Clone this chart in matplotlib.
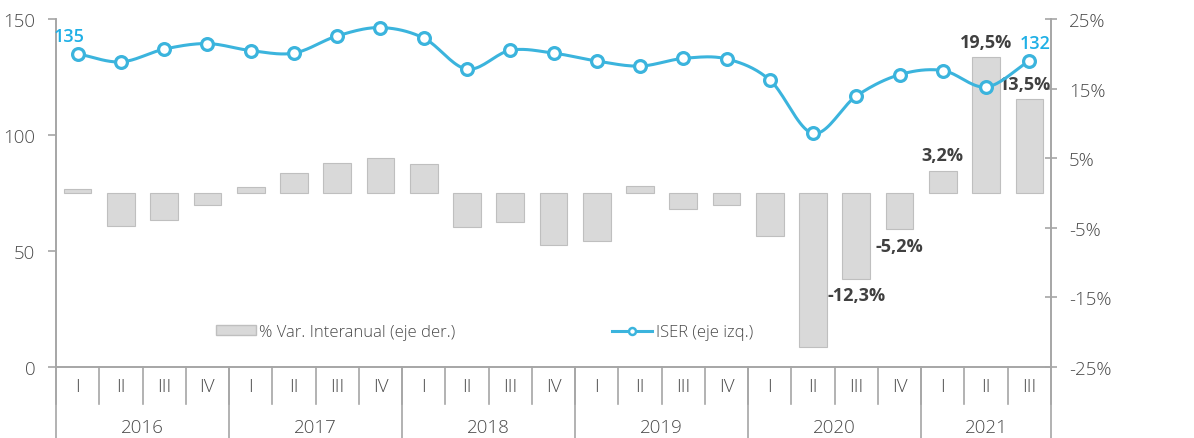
import numpy as np
import matplotlib
matplotlib.use("Agg")
import matplotlib.pyplot as plt
from matplotlib.patches import Patch
from matplotlib.lines import Line2D

plt.rcParams['font.family'] = ['Open Sans', 'DejaVu Sans']

# datos
anios = ['2016', '2017', '2018', '2019', '2020', '2021']
trimestres = ['I', 'II', 'III', 'IV'] * 5 + ['I', 'II', 'III']
iser = [135, 131.5, 137, 139.4, 136.4, 135.3, 142.7, 146.3, 141.8, 128.4, 136.5, 135.3,
        131.9, 129.7, 133, 132.8, 123.7, 100.7, 116.8, 126, 127.8, 120.7, 132]
var_ia = [0.6, -4.8, -3.9, -1.7, 0.8, 2.9, 4.3, 5.0, 4.1, -4.9, -4.2, -7.5,
          -6.9, 1.0, -2.3, -1.7, -6.2, -22.1, -12.3, -5.2, 3.2, 19.5, 13.5]
etiq_var = [18, 19, 20, 21, 22]

azul = '#3bb4dd'
gris_txt = '#4a4a4a'
gris_eje = '#a6a6a6'


def suavizar(x, y, n=20):
    # curva tipo catmull-rom para el trazo suavizado
    x = np.asarray(x, float)
    y = np.asarray(y, float)
    px = np.concatenate([[2 * x[0] - x[1]], x, [2 * x[-1] - x[-2]]])
    py = np.concatenate([[2 * y[0] - y[1]], y, [2 * y[-1] - y[-2]]])
    xs, ys = [], []
    t = np.linspace(0, 1, n, endpoint=False)
    for i in range(1, len(px) - 2):
        for p, out in ((px, xs), (py, ys)):
            p0, p1, p2, p3 = p[i - 1], p[i], p[i + 1], p[i + 2]
            out.extend(0.5 * ((2 * p1) + (-p0 + p2) * t + (2 * p0 - 5 * p1 + 4 * p2 - p3) * t ** 2
                              + (-p0 + 3 * p1 - 3 * p2 + p3) * t ** 3))
    xs.append(x[-1])
    ys.append(y[-1])
    return np.array(xs), np.array(ys)


n = len(iser)
x = np.arange(n)

fig = plt.figure(figsize=(11.94, 4.39), dpi=100)
ax = fig.add_axes([56 / 1194, 71 / 439, 995 / 1194, 348 / 439])
ax2 = ax.twinx()

ax2.bar(x, var_ia, width=0.64, color='#d9d9d9', edgecolor='#bfbfbf', linewidth=0.8)
ax2.set_ylim(-25, 25)
ax2.set_yticks([-25, -15, -5, 5, 15, 25])
ax2.set_yticklabels(['-25%', '-15%', '-5%', '5%', '15%', '25%'])

xs, ys = suavizar(x, iser)
ax.plot(xs, ys, color=azul, lw=2.2, zorder=3)
ax.plot(x, iser, 'o', ms=8.5, mfc='white', mec=azul, mew=2.3, zorder=4)
ax.set_ylim(0, 150)
ax.set_yticks([0, 50, 100, 150])
ax.set_xlim(-0.5, n - 0.5)
ax.set_zorder(ax2.get_zorder() + 1)
ax.patch.set_visible(False)

for a in (ax, ax2):
    for s in a.spines.values():
        s.set_color(gris_eje)
        s.set_linewidth(1.2)
    a.spines['top'].set_visible(False)
    a.set_xticks([])
ax.tick_params(axis='y', colors=gris_eje, labelcolor=gris_txt, labelsize=13.5, length=6, width=1.2, pad=9)
ax2.tick_params(axis='y', colors=gris_eje, labelcolor=gris_txt, labelsize=13.5, length=8, width=1.2,
                direction='inout', pad=9)
for lab in ax.get_yticklabels() + ax2.get_yticklabels():
    lab.set_fontweight('light')

# eje x de dos niveles
tr = ax.get_xaxis_transform()
for i, t in enumerate(trimestres):
    ax.text(i, -0.055, t, transform=tr, ha='center', va='center', fontsize=13.5, color=gris_txt,
            fontweight='light')
for k in range(n + 1):
    ax.plot([k - 0.5, k - 0.5], [0, -0.106], transform=tr, color=gris_eje, lw=1.2, clip_on=False)
limites = [-0.5, 3.5, 7.5, 11.5, 15.5, 19.5, 22.5]
for b in limites:
    ax.plot([b, b], [0, -0.21], transform=tr, color=gris_eje, lw=1.2, clip_on=False)
for j, a in enumerate(anios):
    ax.text((limites[j] + limites[j + 1]) / 2, -0.172, a, transform=tr, ha='center', va='center',
            fontsize=13.5, color=gris_txt, fontweight='light')

# etiquetas
ax.annotate('135', (x[0], iser[0]), xytext=(-6, 13), textcoords='offset points', ha='center',
            va='center', fontsize=13, fontweight='semibold', color='#1fb0e6')
ax.annotate(str(int(iser[-1])), (x[-1], iser[-1]), xytext=(4, 13), textcoords='offset points',
            ha='center', va='center', fontsize=13, fontweight='semibold', color='#1fb0e6')
for i in etiq_var:
    v = var_ia[i]
    dy = 11 if v > 0 else -12
    dx = -3 if i == n - 1 else 0
    ax2.annotate(('%.1f%%' % v).replace('.', ','), (x[i], v), xytext=(dx, dy), textcoords='offset points',
                 ha='center', va='center', fontsize=13, fontweight='bold', color='#404040', zorder=5)

handles = [Patch(facecolor='#d9d9d9', edgecolor='#bfbfbf'),
           Line2D([], [], color=azul, lw=2.2, marker='o', ms=5, mfc='white', mec=azul, mew=1.8)]
leg = ax.legend(handles, ['% Var. Interanual (eje der.)', 'ISER (eje izq.)'], ncol=2, frameon=False,
                loc='center left', bbox_to_anchor=((216 - 56) / 995, 35 / 348), borderaxespad=0,
                borderpad=0, prop={'size': 12, 'weight': 'light'}, labelcolor=gris_txt,
                handlelength=2.4, handleheight=0.55, handletextpad=0.2, columnspacing=9.4)

fig.savefig('out.png', dpi=100)
